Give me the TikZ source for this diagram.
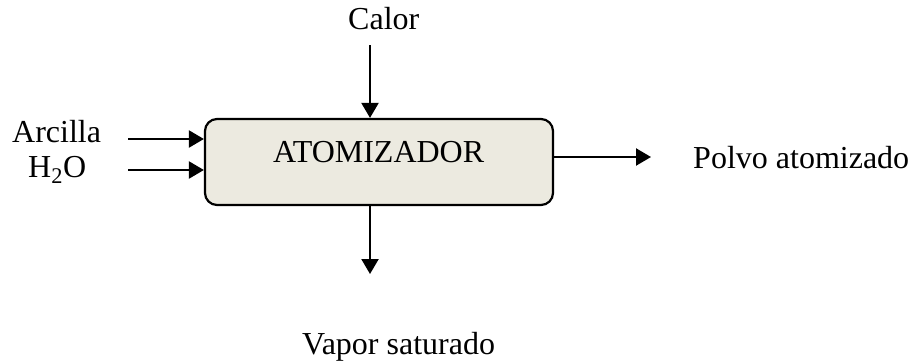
\documentclass[tikz,border=0pt]{standalone}
\usepackage{fontspec}
\setmainfont{Liberation Serif}
\usetikzlibrary{arrows.meta}
\definecolor{boxfill}{HTML}{ECEAE0}
\tikzset{
  lbl/.style={inner sep=0pt, anchor=base west, font=\fontsize{32}{38}\selectfont},
  flow/.style={line width=2.2pt, -{Triangle[length=15pt,width=17pt]}},
  procbox/.style={draw, line width=2.2pt, fill=boxfill, rounded corners=12pt, minimum width=348pt, minimum height=86pt, inner sep=0pt}
}
\begin{document}
\begin{tikzpicture}[x=1pt,y=1pt]
\useasboundingbox (0,0) rectangle (912,-362);
\node[procbox] (box) at (379,-162) {};
\node[lbl] (atom) at (273,-162) {ATOMIZADOR};
\node[lbl] (calor) at (348,-29) {Calor};
\node[lbl] (arcilla) at (12,-142) {Arcilla};
\node[lbl] (agua) at (28,-177) {H\textsubscript{2}O};
\node[lbl] (polvo) at (693,-168) {Polvo atomizado};
\node[lbl] (vapor) at (302,-354) {Vapor saturado};
\coordinate (cin) at (370,-45);
\coordinate (ain) at (128,-139);
\coordinate (hin) at (128,-170);
\coordinate (pout) at (651,-157);
\coordinate (vout) at (370,-274);
\draw[flow] (cin) -- (cin |- box.north);
\draw[flow] (ain) -- (ain -| box.west);
\draw[flow] (hin) -- (hin -| box.west);
\draw[flow] (pout -| box.east) -- (pout);
\draw[flow] (vout |- box.south) -- (vout);
\end{tikzpicture}
\end{document}
